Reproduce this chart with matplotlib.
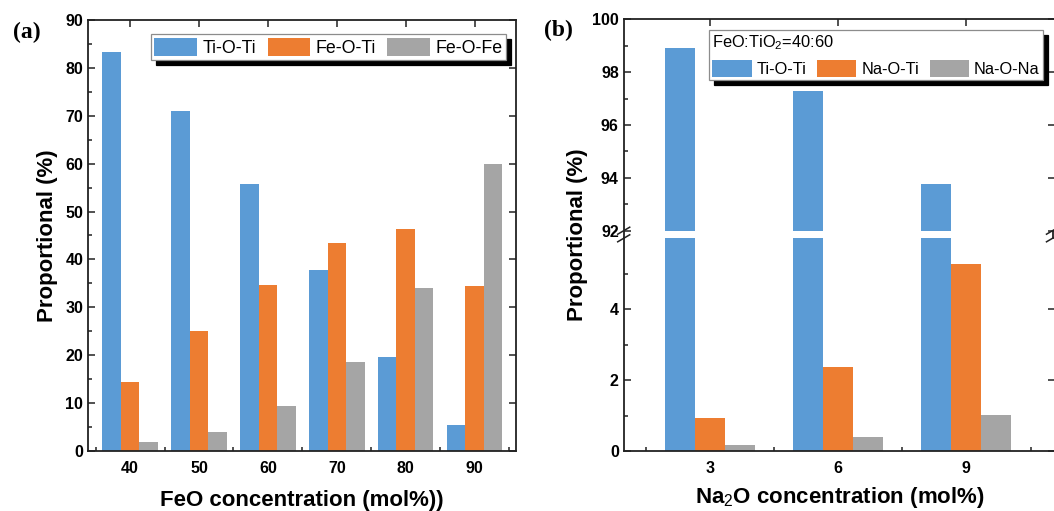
import numpy as np
import matplotlib
matplotlib.use("Agg")
import matplotlib.pyplot as plt
from matplotlib.ticker import FixedLocator, MultipleLocator
from matplotlib.lines import Line2D

plt.rcParams['font.family'] = ['Liberation Sans', 'DejaVu Sans']
plt.rcParams['mathtext.fontset'] = 'custom'
plt.rcParams['mathtext.rm'] = 'Liberation Sans'
plt.rcParams['mathtext.bf'] = 'Liberation Sans:bold'

# ---- data -------------------------------------------------------------
feo_conc = ['40', '50', '60', '70', '80', '90']
ti_o_ti_a = [83.4, 70.9, 55.7, 37.9, 19.6, 5.4]
fe_o_ti = [14.5, 25.0, 34.7, 43.5, 46.3, 34.4]
fe_o_fe = [1.9, 4.0, 9.5, 18.5, 34.0, 59.9]

na2o_conc = ['3', '6', '9']
ti_o_ti_b = [98.93, 97.27, 93.76]
na_o_ti = [0.92, 2.38, 5.27]
na_o_na = [0.18, 0.40, 1.02]

BLUE = '#5B9BD5'
ORANGE = '#ED7D31'
GRAY = '#A5A5A5'
SPINE = '#222222'

W, H = 1054, 511
fig = plt.figure(figsize=(W / 100, H / 100), dpi=100)


def fx(px):
    return px / W


def fy(py):
    return 1 - py / H


def style_axis(ax):
    for s in ax.spines.values():
        s.set_color(SPINE)
        s.set_linewidth(1.3)
    ax.set_axisbelow(True)
    ax.tick_params(which='both', direction='in', width=1.1, colors=SPINE,
                   labelcolor='black')
    ax.tick_params(which='major', length=5, labelsize=11.5)
    ax.tick_params(which='minor', length=3)
    for lab in ax.get_xticklabels() + ax.get_yticklabels():
        lab.set_fontweight('bold')


def add_legend(ax, handles, labels, anchor, size, hlen, title=None):
    leg = ax.legend(handles, labels, loc='upper right', bbox_to_anchor=anchor,
                    ncol=3, frameon=True, fancybox=False, borderaxespad=0,
                    fontsize=size, handlelength=hlen, handleheight=1.2,
                    handletextpad=0.3, columnspacing=0.65, borderpad=0.2,
                    title=title, title_fontsize=size, alignment='left',
                    shadow={'color': 'black', 'alpha': 1, 'ox': 3.5, 'oy': -3.5})
    leg.get_frame().set_edgecolor('#8c8c8c')
    leg.get_frame().set_linewidth(0.9)
    return leg


# ---- panel (a) --------------------------------------------------------
ax_a = fig.add_axes([fx(88), fy(451), fx(516) - fx(88), fy(20) - fy(451)])
xa = np.arange(len(feo_conc))
wa = 0.268
ba1 = ax_a.bar(xa - wa, ti_o_ti_a, wa, color=BLUE, linewidth=0)
ba2 = ax_a.bar(xa, fe_o_ti, wa, color=ORANGE, linewidth=0)
ba3 = ax_a.bar(xa + wa, fe_o_fe, wa, color=GRAY, linewidth=0)
ax_a.set_xlim(-0.61, len(feo_conc) - 1 + 0.6)
ax_a.set_ylim(0, 90)
ax_a.set_xticks(xa)
ax_a.set_xticklabels(feo_conc)
ax_a.xaxis.set_minor_locator(FixedLocator(np.arange(-0.5, len(feo_conc), 1.0)))
ax_a.yaxis.set_major_locator(MultipleLocator(10))
ax_a.yaxis.set_minor_locator(MultipleLocator(5))
style_axis(ax_a)
ax_a.tick_params(which='major', top=True, right=True)
ax_a.tick_params(which='minor', top=False, right=False)
ax_a.tick_params(axis='x', which='major', pad=7)
ax_a.set_xlabel('FeO concentration (mol%))', fontsize=16, fontweight='bold',
                labelpad=10)
ax_a.set_ylabel('Proportional (%)', fontsize=16, fontweight='bold', labelpad=5)
add_legend(ax_a, [ba1, ba2, ba3], ['Ti-O-Ti', 'Fe-O-Ti', 'Fe-O-Fe'],
           (0.977, 0.9675), 12.8, 2.4)
fig.text(fx(27), fy(32), '(a)', family='Liberation Serif', fontweight='bold',
         fontsize=17, ha='center', va='center')

# ---- panel (b): broken y axis ----------------------------------------
L, R = 623.7, 1055
ax_top = fig.add_axes([fx(L), fy(230.7), fx(R) - fx(L), fy(19.3) - fy(230.7)])
ax_bot = fig.add_axes([fx(L), fy(451), fx(R) - fx(L), fy(238.3) - fy(451)])
xb = np.arange(len(na2o_conc))
wb = 0.234
for ax in (ax_top, ax_bot):
    bb1 = ax.bar(xb - wb, ti_o_ti_b, wb, color=BLUE, linewidth=0)
    bb2 = ax.bar(xb, na_o_ti, wb, color=ORANGE, linewidth=0)
    bb3 = ax.bar(xb + wb, na_o_na, wb, color=GRAY, linewidth=0)
    ax.set_xlim(-0.67, len(na2o_conc) - 1 + 0.69)
    ax.set_xticks(xb)
    ax.xaxis.set_minor_locator(FixedLocator(np.arange(-0.5, len(na2o_conc), 1.0)))
    ax.yaxis.set_minor_locator(MultipleLocator(1))

ax_top.set_ylim(92, 100)
ax_top.yaxis.set_major_locator(MultipleLocator(2))
ax_bot.set_ylim(0, 6)
ax_bot.set_yticks([0, 2, 4])
ax_bot.yaxis.set_minor_locator(FixedLocator([1, 3, 5]))
ax_bot.set_xticklabels(na2o_conc)

style_axis(ax_top)
style_axis(ax_bot)
ax_top.spines['bottom'].set_visible(False)
ax_bot.spines['top'].set_visible(False)
ax_top.tick_params(axis='x', which='major', top=True, bottom=False,
                   labelbottom=False)
ax_top.tick_params(axis='x', which='minor', top=False, bottom=False)
ax_top.tick_params(axis='y', which='major', right=True)
ax_bot.tick_params(axis='x', which='major', top=False, bottom=True, pad=7)
ax_bot.tick_params(axis='x', which='minor', top=False, bottom=True)
ax_bot.tick_params(axis='y', which='major', right=True)
ax_bot.set_xlabel('Na$_2$O concentration (mol%)', fontsize=16,
                  fontweight='bold', labelpad=7)

# continuous spines across the break, with slash marks
for xs in (L, 1052.5):
    fig.add_artist(Line2D([fx(xs), fx(xs)], [fy(230.7), fy(238.3)],
                          color=SPINE, lw=1.3))
    for yc in (230.7, 238.3):
        fig.add_artist(Line2D([fx(xs - 6), fx(xs + 6)], [fy(yc + 3.5), fy(yc - 3.5)],
                              color=SPINE, lw=1.1))

fig.text(fx(577), fy(235), 'Proportional (%)', rotation=90, fontsize=16,
         fontweight='bold', ha='center', va='center')
add_legend(ax_top, [bb1, bb2, bb3], ['Ti-O-Ti', 'Na-O-Ti', 'Na-O-Na'],
           (0.972, 0.949), 11.8, 2.4, title='FeO:TiO$_2$=40:60')
fig.text(fx(558), fy(30), '(b)', family='Liberation Serif', fontweight='bold',
         fontsize=17, ha='center', va='center')

fig.savefig('out.png', dpi=100, facecolor='white')
